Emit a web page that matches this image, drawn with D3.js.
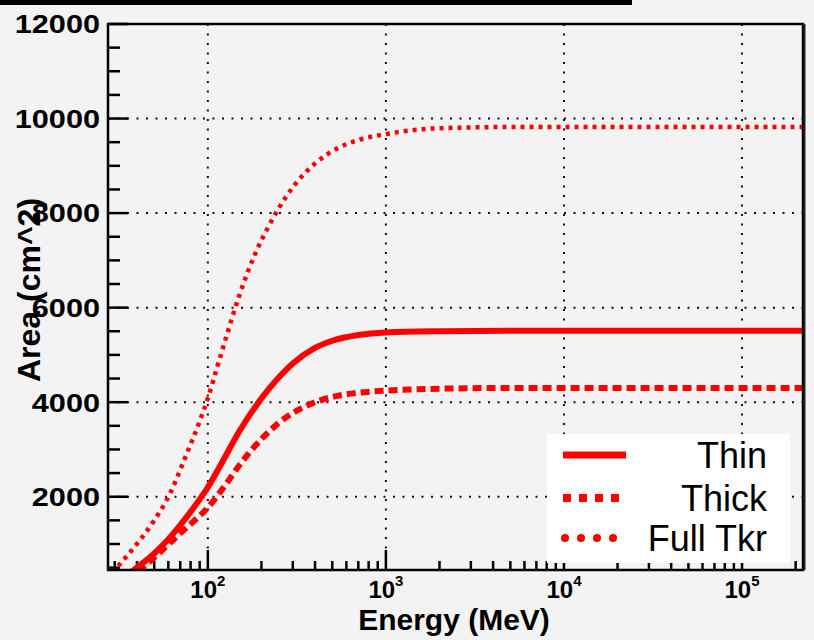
<!DOCTYPE html>
<html>
<head>
<meta charset="utf-8">
<script src="https://cdn.jsdelivr.net/npm/d3@7"></script>
<style>
  html, body { margin: 0; padding: 0; background: #f3f3f3; }
  svg { display: block; font-family: "Liberation Sans", Arial, Helvetica, sans-serif; }
</style>
</head>
<body>
<div id="chart"></div>
<script>
// energies in MeV, areas in cm^2
let thinEnergy  = [30, 40, 50, 60, 70, 80, 100, 120, 150, 200, 250, 300, 400, 500, 700, 1000, 2000, 5000, 220000];
let thinArea    = [150, 500, 800, 1100, 1400, 1680, 2200, 2720, 3380, 4080, 4520, 4820, 5150, 5300, 5420, 5475, 5500, 5510, 5510];

let thickEnergy = [35, 45, 58, 75, 100, 125, 150, 200, 250, 300, 400, 500, 700, 1000, 2000, 5000, 220000];
let thickArea   = [250, 560, 940, 1330, 1770, 2240, 2660, 3220, 3560, 3770, 4000, 4110, 4200, 4245, 4285, 4300, 4300];

let fullEnergy  = [25, 30, 38, 49, 61, 75, 89, 100, 111, 125, 150, 185, 218, 250, 308, 400, 535, 720, 1000, 1850, 5000, 220000];
let fullArea    = [100, 450, 900, 1450, 2050, 2850, 3550, 4080, 4650, 5300, 6250, 7150, 7700, 8100, 8600, 9050, 9370, 9560, 9670, 9790, 9820, 9820];

let seriesNames = ["Thin", "Thick", "Full Tkr"];
let yTicks = [2000, 4000, 6000, 8000, 10000, 12000];
let xDecades = [2, 3, 4, 5];

let WIDTH = 814, HEIGHT = 640;
let LEFT = 108, RIGHT = 803, TOP = 24, BOTTOM = 570;

let svg = d3.select("#chart").append("svg").attr("width", WIDTH).attr("height", HEIGHT);

svg.append("rect").attr("width", WIDTH).attr("height", HEIGHT).attr("fill", "#f3f3f3");
// black bar at the very top
svg.append("rect").attr("x", 0).attr("y", 0).attr("width", 632).attr("height", 5).attr("fill", "#000");

let x = d3.scaleLog().domain([27.5, 220000]).range([LEFT, RIGHT]);
let y = d3.scaleLinear().domain([450, 12000]).range([BOTTOM, TOP]);

//grid
let grid = svg.append("g").attr("stroke", "#111").attr("stroke-width", 2).attr("stroke-dasharray", "2,7.5");
grid.selectAll(".vg").data(xDecades).enter().append("line")
    .attr("x1", d => x(Math.pow(10, d))).attr("x2", d => x(Math.pow(10, d)))
    .attr("y1", TOP).attr("y2", BOTTOM);
grid.selectAll(".hg").data(yTicks.filter(d => d < 12000)).enter().append("line")
    .attr("x1", LEFT).attr("x2", RIGHT)
    .attr("y1", d => y(d)).attr("y2", d => y(d));

//ticks
let yMinor = d3.range(500, 12000, 500).filter(d => d % 2000 != 0);
let ticks = svg.append("g").attr("stroke", "#000").attr("stroke-width", 2.5);
ticks.selectAll(".ymaj").data(yTicks).enter().append("line")
    .attr("x1", LEFT).attr("x2", LEFT + 20).attr("y1", d => y(d)).attr("y2", d => y(d));
ticks.selectAll(".ymin").data(yMinor).enter().append("line")
    .attr("x1", LEFT).attr("x2", LEFT + 12).attr("y1", d => y(d)).attr("y2", d => y(d));

let xMinor = [];
for (let e = 1; e <= 5; e++) {
  for (let m = 2; m <= 9; m++) {
    let v = m * Math.pow(10, e);
    if (v > 27.5 && v < 220000) xMinor.push(v);
  }
}
ticks.selectAll(".xmaj").data(xDecades).enter().append("line")
    .attr("x1", d => x(Math.pow(10, d))).attr("x2", d => x(Math.pow(10, d)))
    .attr("y1", BOTTOM).attr("y2", BOTTOM - 20);
ticks.selectAll(".xmin").data(xMinor).enter().append("line")
    .attr("x1", d => x(d)).attr("x2", d => x(d))
    .attr("y1", BOTTOM).attr("y2", BOTTOM - 9);

//curves
svg.append("clipPath").attr("id", "plotclip").append("rect")
    .attr("x", LEFT).attr("y", TOP).attr("width", RIGHT - LEFT).attr("height", BOTTOM - TOP);

let line = d3.line().x(d => x(d[0])).y(d => y(d[1])).curve(d3.curveMonotoneX);
let curves = [
  { pts: d3.zip(thinEnergy, thinArea), width: 6, dash: null },
  { pts: d3.zip(thickEnergy, thickArea), width: 6, dash: "9,5" },
  { pts: d3.zip(fullEnergy, fullArea), width: 4.5, dash: "4,5" }
];
let curveG = svg.append("g").attr("clip-path", "url(#plotclip)");
curves.forEach(function(c) {
  curveG.append("path").attr("d", line(c.pts))
        .attr("fill", "none").attr("stroke", "#ff0000")
        .attr("stroke-width", c.width)
        .attr("stroke-dasharray", c.dash);
});

//frame
svg.append("rect").attr("x", LEFT).attr("y", TOP).attr("width", RIGHT - LEFT).attr("height", BOTTOM - TOP)
   .attr("fill", "none").attr("stroke", "#000").attr("stroke-width", 2.5);
svg.append("line").attr("x1", RIGHT + 1.5).attr("x2", RIGHT + 1.5).attr("y1", TOP).attr("y2", BOTTOM)
   .attr("stroke", "#222").attr("stroke-width", 2);

//tick labels (the reference glyphs are stretched sideways)
svg.selectAll(".ylab").data(yTicks).enter().append("text")
   .attr("transform", d => "translate(100," + y(d) + ") scale(1.18,1)")
   .attr("dy", "0.36em")
   .attr("text-anchor", "end").attr("font-weight", "bold").attr("font-size", 26)
   .text(d => d);

let xl = svg.selectAll(".xlab").data(xDecades).enter().append("text")
   .attr("x", d => x(Math.pow(10, d))).attr("y", 598)
   .attr("text-anchor", "middle").attr("font-weight", "bold").attr("font-size", 24);
xl.append("tspan").text("10");
xl.append("tspan").attr("dy", -12).attr("font-size", 15).text(d => d);

//axis titles
svg.append("text").attr("x", 454).attr("y", 630).attr("text-anchor", "middle")
   .attr("font-weight", "bold").attr("font-size", 30).text("Energy (MeV)");
svg.append("text").attr("transform", "translate(40,290) rotate(-90)").attr("text-anchor", "middle")
   .attr("font-weight", "bold").attr("font-size", 32).text("Area (cm^2)");

//legend
let legend = svg.append("g");
legend.append("rect").attr("x", 547).attr("y", 434).attr("width", 243).attr("height", 129).attr("fill", "#fff");
let legendRows = [
  { y: 455, width: 7, dash: null, cap: "butt", x1: 563, x2: 626 },
  { y: 498, width: 8, dash: "8,8", cap: "butt", x1: 563, x2: 627 },
  { y: 538, width: 8, dash: "0,16", cap: "round", x1: 565, x2: 614 }
];
legendRows.forEach(function(r, i) {
  legend.append("line").attr("x1", r.x1).attr("x2", r.x2).attr("y1", r.y).attr("y2", r.y)
        .attr("stroke", "#ff0000").attr("stroke-width", r.width)
        .attr("stroke-dasharray", r.dash).attr("stroke-linecap", r.cap);
  legend.append("text").attr("x", 767).attr("y", r.y + 13).attr("text-anchor", "end")
        .attr("font-size", 36).attr("fill", "#000").text(seriesNames[i]);
});
</script>
</body>
</html>
